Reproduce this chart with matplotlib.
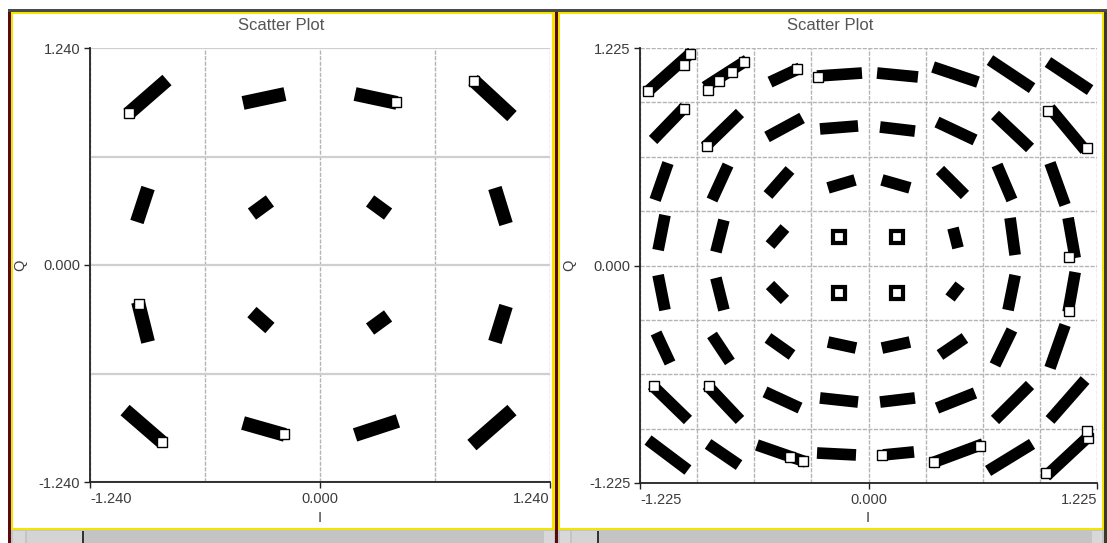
import matplotlib.pyplot as plt
import numpy as np
from matplotlib.patches import Rectangle

# ---- data: each cluster is a smear from (x0, y0) to (x1, y1) ----
# left panel, 16 clusters, row by row from top
L_X0 = [-1.035, -0.415, 0.189, 0.825,
        -0.987, -0.367, 0.270, 0.943,
        -0.981, -0.367, 0.270, 0.943,
        -1.051, -0.415, 0.189, 0.819]
L_Y0 = [0.863, 0.926, 0.977, 1.057,
        0.246, 0.291, 0.366, 0.440,
        -0.211, -0.269, -0.366, -0.440,
        -0.829, -0.903, -0.971, -1.029]
L_X1 = [-0.825, -0.189, 0.415, 1.035,
        -0.927, -0.270, 0.367, 1.003,
        -0.927, -0.270, 0.367, 1.003,
        -0.846, -0.189, 0.420, 1.035]
L_Y1 = [1.057, 0.977, 0.926, 0.851,
        0.440, 0.366, 0.291, 0.234,
        -0.440, -0.360, -0.291, -0.234,
        -1.017, -0.971, -0.891, -0.829]
# hollow squares visible on the left panel
L_SQ_X = [-1.030, 0.830, 0.412, -0.975, -0.850, -0.195]
L_SQ_Y = [0.868, 1.052, 0.930, -0.220, -1.010, -0.965]

# right panel, 64 clusters, row by row from top
R_X0 = [-1.187, -0.877, -0.528, -0.276, 0.046, 0.346, 0.651, 0.962,
        -1.155, -0.877, -0.544, -0.260, 0.062, 0.367, 0.678, 0.973,
        -1.144, -0.839, -0.539, -0.217, 0.072, 0.383, 0.689, 0.973,
        -1.128, -0.818, -0.528, -0.180, 0.131, 0.453, 0.759, 1.070,
        -1.128, -0.818, -0.528, -0.180, 0.131, 0.437, 0.748, 1.070,
        -1.139, -0.839, -0.539, -0.217, 0.072, 0.383, 0.678, 0.973,
        -1.161, -0.866, -0.555, -0.260, 0.062, 0.367, 0.678, 0.973,
        -1.182, -0.860, -0.598, -0.276, 0.078, 0.340, 0.641, 0.952]
R_Y0 = [0.977, 1.005, 1.033, 1.067, 1.084, 1.118, 1.157, 1.146,
        0.707, 0.667, 0.724, 0.769, 0.780, 0.808, 0.848, 0.887,
        0.369, 0.369, 0.397, 0.437, 0.482, 0.538, 0.566, 0.577,
        0.087, 0.076, 0.115, 0.149, 0.172, 0.211, 0.268, 0.268,
        -0.054, -0.070, -0.110, -0.144, -0.166, -0.183, -0.251, -0.262,
        -0.380, -0.391, -0.408, -0.431, -0.465, -0.504, -0.560, -0.577,
        -0.673, -0.673, -0.712, -0.746, -0.769, -0.803, -0.870, -0.870,
        -0.983, -1.005, -1.011, -1.056, -1.067, -1.112, -1.157, -1.186]
R_X1 = [-0.946, -0.651, -0.367, -0.035, 0.265, 0.587, 0.877, 1.188,
        -0.984, -0.689, -0.356, -0.056, 0.249, 0.571, 0.866, 1.161,
        -1.075, -0.753, -0.421, -0.072, 0.222, 0.517, 0.769, 1.054,
        -1.091, -0.775, -0.448, -0.137, 0.174, 0.480, 0.786, 1.108,
        -1.091, -0.775, -0.448, -0.137, 0.174, 0.491, 0.786, 1.108,
        -1.064, -0.743, -0.410, -0.067, 0.222, 0.517, 0.769, 1.054,
        -0.968, -0.689, -0.367, -0.056, 0.249, 0.571, 0.866, 1.161,
        -0.968, -0.694, -0.335, -0.067, 0.244, 0.614, 0.877, 1.188]
R_Y1 = [1.202, 1.157, 1.112, 1.084, 1.062, 1.033, 0.999, 0.988,
        0.893, 0.859, 0.831, 0.786, 0.757, 0.707, 0.662, 0.650,
        0.577, 0.566, 0.538, 0.482, 0.437, 0.397, 0.369, 0.341,
        0.284, 0.256, 0.211, 0.172, 0.149, 0.099, 0.059, 0.042,
        -0.251, -0.251, -0.194, -0.166, -0.144, -0.110, -0.054, -0.037,
        -0.549, -0.543, -0.504, -0.465, -0.431, -0.408, -0.363, -0.335,
        -0.870, -0.870, -0.803, -0.769, -0.746, -0.718, -0.673, -0.645,
        -1.152, -1.124, -1.107, -1.067, -1.050, -1.005, -1.005, -0.955]
# hollow squares visible on the right panel
R_SQ_X = [-1.180, -0.955, -0.990, -0.860, -0.800, -0.730, -0.665, -0.385,
          -0.270, -0.990, -0.865, -1.150, -0.855, -0.350, -0.420, 0.075,
          0.350, 0.600, 0.950, 1.175, 1.170, 1.075, 1.075, 0.960, 1.170]
R_SQ_Y = [0.985, 1.190, 1.130, 0.990, 1.040, 1.090, 1.145, 1.105,
          1.062, 0.880, 0.675, -0.680, -0.680, -1.100, -1.080, -1.065,
          -1.105, -1.015, -1.170, -0.970, -0.930, 0.050, -0.255, 0.870,
          0.660]

LIM_L = 1.240
LIM_R = 1.225

W, H = 1107, 543
TXT = "#3c3c3c"


def prect(f, x0, y0, x1, y1, color):
    # rectangle given in pixel coords (origin top-left)
    f.add_artist(Rectangle((x0 / W, 1 - y1 / H), (x1 - x0) / W, (y1 - y0) / H,
                           transform=f.transFigure, color=color, lw=0))


def setup(ax, lim, ndiv, solid_rows=False):
    ax.set_xlim(-lim, lim)
    ax.set_ylim(-lim, lim)
    ax.set_xticks([-lim, 0, lim])
    ax.set_yticks([-lim, 0, lim])
    ax.set_xticklabels([f"{-lim:.3f}", "0.000", f"{lim:.3f}"])
    ax.set_yticklabels([f"{-lim:.3f}", "0.000", f"{lim:.3f}"])
    labs = ax.get_xticklabels()
    labs[0].set_ha("left")
    labs[2].set_ha("right")
    grid = np.linspace(-lim, lim, ndiv + 1)
    ax.set_xticks(grid, minor=True)
    ax.set_yticks(grid, minor=True)
    ax.tick_params(which="minor", length=0)
    ax.tick_params(which="major", length=4, width=1, color="#222222",
                   labelsize=10.5, labelcolor=TXT, pad=3)
    ax.grid(which="both", axis="x", color="#b4b4b4", lw=1.0, ls=(0, (3, 1)))
    if solid_rows:
        ax.grid(which="both", axis="y", color="#cfcfcf", lw=1.6, ls="-")
    else:
        ax.grid(which="both", axis="y", color="#b4b4b4", lw=1.0, ls=(0, (3, 1)))
    for s in ("top", "right"):
        ax.spines[s].set_visible(False)
    for s in ("left", "bottom"):
        ax.spines[s].set_color("#222222")
        ax.spines[s].set_linewidth(1.3)
    ax.set_axisbelow(True)


def clusters(ax, x0, y0, x1, y1, lw, sqx, sqy, ms):
    for a, b, c, d in zip(x0, y0, x1, y1):
        if abs(c - a) < 0.06 and abs(d - b) < 0.06:
            # tight cluster drawn as a ring
            ax.plot([(a + c) / 2], [(b + d) / 2], marker="s", ms=lw * 1.05,
                    mfc="white", mec="black", mew=lw * 0.36, zorder=3)
        else:
            ax.plot([a, c], [b, d], color="black", lw=lw,
                    solid_capstyle="butt", zorder=3)
    ax.plot(sqx, sqy, ls="none", marker="s", ms=ms, mfc="white",
            mec="black", mew=1.0, zorder=4)


plt.rcParams["font.family"] = ["Liberation Sans", "DejaVu Sans"]
fig = plt.figure(figsize=(W / 100, H / 100), dpi=100)

# window frame
prect(fig, 8, 9, 1107, 12, "#4a4a4a")
prect(fig, 8, 12, 1104, 14, "#f2e600")
prect(fig, 8, 12, 11, 543, "#5a0a0a")
prect(fig, 11, 14, 13, 530, "#f2e600")
prect(fig, 555, 12, 558, 543, "#5a0a0a")
prect(fig, 552, 14, 555, 530, "#f2e600")
prect(fig, 558, 14, 560, 530, "#f2e600")
prect(fig, 1102, 12, 1104, 530, "#f2e600")
prect(fig, 1104, 12, 1107, 543, "#3a3a2a")
prect(fig, 11, 528, 555, 530, "#f2e600")
prect(fig, 558, 528, 1104, 530, "#f2e600")
# scrollbars
prect(fig, 11, 530, 555, 543, "#c4c4c4")
prect(fig, 558, 530, 1104, 543, "#c4c4c4")
prect(fig, 13, 531, 25, 543, "#d8d8d8")
prect(fig, 27, 531, 83, 543, "#d4d4d4")
prect(fig, 82, 531, 84, 543, "#333333")
prect(fig, 544, 531, 554, 543, "#d8d8d8")
prect(fig, 560, 531, 570, 543, "#d8d8d8")
prect(fig, 572, 531, 597, 543, "#d4d4d4")
prect(fig, 597, 531, 599, 543, "#333333")
prect(fig, 1092, 531, 1102, 543, "#d8d8d8")

axL = fig.add_axes([90 / W, 1 - 482 / H, 460 / W, 434 / H])
axR = fig.add_axes([640 / W, 1 - 483 / H, 457 / W, 435 / H])

setup(axL, LIM_L, 4, solid_rows=True)
setup(axR, LIM_R, 8)

clusters(axL, L_X0, L_Y0, L_X1, L_Y1, 10.0, L_SQ_X, L_SQ_Y, 6.5)
clusters(axR, R_X0, R_Y0, R_X1, R_Y1, 8.4, R_SQ_X, R_SQ_Y, 6.5)

for cx, yl_x, ix in ((281, 20, 320), (830, 569, 868)):
    fig.text(cx / W, 1 - 26 / H, "Scatter Plot", ha="center", va="center",
             fontsize=12, color="#555555")
    fig.text(yl_x / W, 1 - 265 / H, "Q", ha="center", va="center",
             rotation=90, fontsize=10.5, color=TXT)
    fig.text(ix / W, 1 - 518 / H, "I", ha="center", va="center",
             fontsize=10.5, color=TXT)

fig.savefig("out.png", dpi=100)
